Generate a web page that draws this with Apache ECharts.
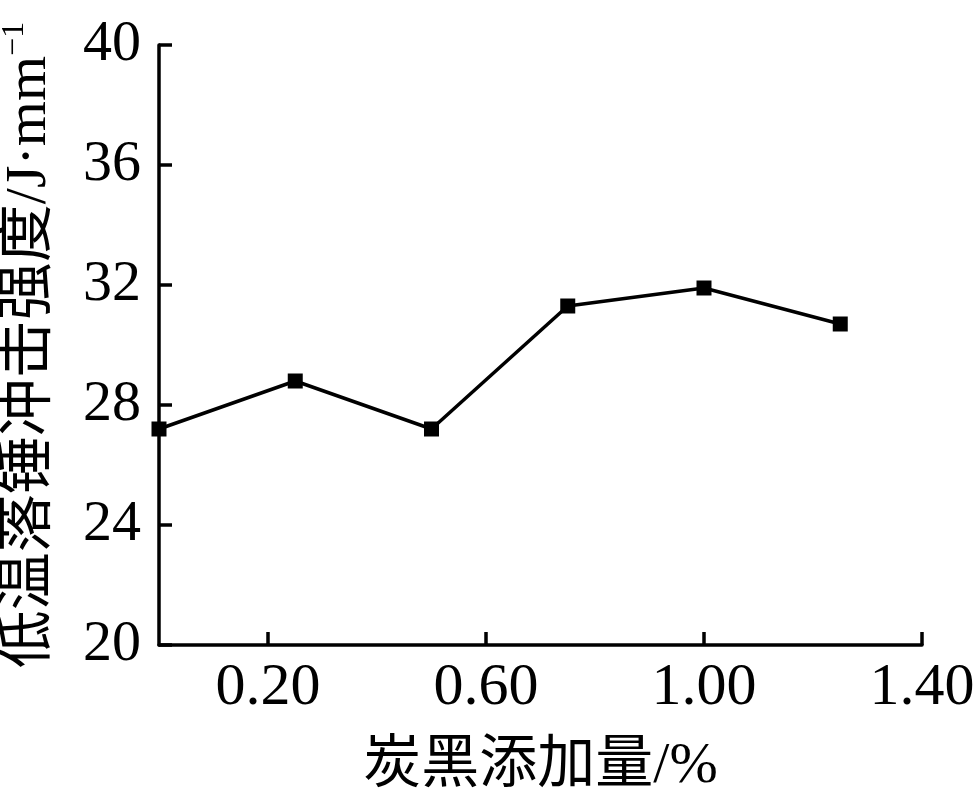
<!DOCTYPE html>
<html><head><meta charset="utf-8">
<script src="https://cdn.jsdelivr.net/npm/echarts@6/dist/echarts.min.js"></script>
<style>html,body{margin:0;padding:0;background:#fff}#c{width:974px;height:793px}</style>
</head><body><div id="c"></div>
<script>
var carbonBlack = [0, 0.25, 0.5, 0.75, 1.0, 1.25];
var impactStrength = [27.2, 28.8, 27.2, 31.3, 31.9, 30.7];
var xTickValues = [0.2, 0.6, 1.0, 1.4];
var yMin = 20, yMax = 40, yStep = 4;
var xName = '炭黑添加量/%';
var yName = '低温落锤冲击强度/J·mm';
var ySup = '−1';

var FONT = '"Liberation Serif", "Times New Roman", "Noto Sans CJK SC", serif';
var chart = echarts.init(document.getElementById('c'), null, {renderer: 'canvas'});
var axisStyle = {lineStyle: {color: '#000', width: 3.5}};
chart.setOption({
  animation: false,
  backgroundColor: '#fff',
  grid: {left: 159, right: 52, top: 45, bottom: 148, containLabel: false, outerBoundsMode: 'none'},
  xAxis: {
    type: 'value', min: 0, max: 1.4,
    axisLine: axisStyle,
    axisTick: {show: true, inside: true, length: 13, lineStyle: {color: '#000', width: 3.5}, customValues: xTickValues},
    axisLabel: {color: '#000', fontFamily: FONT, fontSize: 60, margin: 13, customValues: xTickValues,
      formatter: function (v) { return v.toFixed(2); }},
    splitLine: {show: false},
    name: xName, nameLocation: 'middle', nameGap: 93,
    nameTextStyle: {color: '#000', fontFamily: FONT, fontSize: 58}
  },
  yAxis: {
    type: 'value', min: yMin, max: yMax, interval: yStep,
    axisLine: axisStyle,
    axisTick: {show: true, inside: true, length: 13, lineStyle: {color: '#000', width: 3.5}},
    axisLabel: {color: '#000', fontFamily: FONT, fontSize: 58, margin: 18},
    splitLine: {show: false},
    name: '{a|' + yName + '}{s|' + ySup + '}', nameLocation: 'middle', nameGap: 98, nameRotate: 90,
    nameTextStyle: {color: '#000', fontFamily: FONT, fontSize: 58,
      rich: {a: {fontFamily: FONT, fontSize: 58, color: '#000'},
             s: {fontFamily: FONT, fontSize: 32, color: '#000', verticalAlign: 'top', padding: [0, 0, 30, 0]}}}
  },
  series: [{
    type: 'line',
    data: carbonBlack.map(function (x, i) { return [x, impactStrength[i]]; }),
    symbol: 'rect', symbolSize: 15, clip: false,
    lineStyle: {color: '#000', width: 3.5},
    itemStyle: {color: '#000'}
  }]
});
</script></body></html>
